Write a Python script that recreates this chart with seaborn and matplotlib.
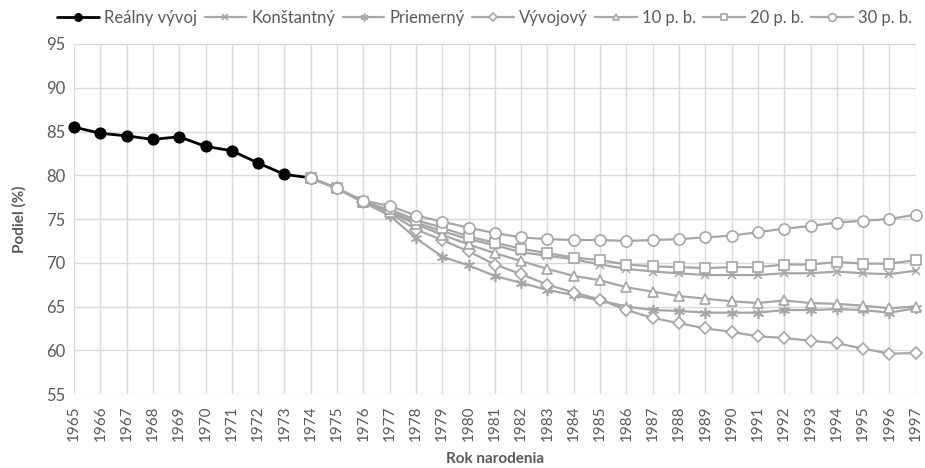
import matplotlib
matplotlib.use('agg')

import matplotlib.pyplot as plt
import seaborn as sns
import pandas as pd

years_real = list(range(1965, 1975))
real = [85.5, 84.8, 84.5, 84.1, 84.4, 83.3, 82.8, 81.4, 80.1, 79.7]

years_proj = list(range(1974, 1998))
konstantny = [79.7, 78.5, 77.0, 75.9, 74.6, 73.6, 72.7, 72.0, 71.2, 70.8, 70.4, 69.8,
              69.3, 69.0, 68.8, 68.6, 68.6, 68.6, 68.8, 68.8, 69.0, 68.8, 68.7, 69.1]
priemerny = [79.7, 78.5, 76.9, 75.4, 72.8, 70.7, 69.7, 68.5, 67.7, 66.9, 66.3, 65.7,
             65.0, 64.6, 64.5, 64.3, 64.3, 64.3, 64.6, 64.6, 64.7, 64.6, 64.3, 64.8]
vyvojovy = [79.7, 78.5, 77.0, 75.7, 73.8, 72.6, 71.3, 69.8, 68.7, 67.5, 66.6, 65.8,
            64.6, 63.7, 63.1, 62.5, 62.1, 61.6, 61.4, 61.1, 60.8, 60.2, 59.6, 59.7]
pb10 = [79.7, 78.5, 77.0, 75.8, 74.4, 73.2, 72.1, 71.1, 70.2, 69.3, 68.5, 68.0,
        67.2, 66.7, 66.2, 65.9, 65.6, 65.4, 65.7, 65.4, 65.3, 65.1, 64.8, 65.0]
pb20 = [79.7, 78.5, 76.9, 76.1, 74.9, 74.0, 73.0, 72.3, 71.6, 71.1, 70.6, 70.3,
        69.8, 69.6, 69.5, 69.4, 69.5, 69.5, 69.8, 69.8, 70.1, 69.9, 69.9, 70.3]
pb30 = [79.7, 78.5, 77.1, 76.5, 75.4, 74.7, 74.0, 73.4, 72.9, 72.7, 72.6, 72.6,
        72.5, 72.6, 72.7, 72.9, 73.1, 73.5, 73.9, 74.2, 74.6, 74.8, 75.0, 75.5]

proj = [("Konštantný", konstantny, "x"),
        ("Priemerný", priemerny, (6, 2, 0)),
        ("Vývojový", vyvojovy, "D"),
        ("10 p. b.", pb10, "^"),
        ("20 p. b.", pb20, "s"),
        ("30 p. b.", pb30, "o")]

sns.set_style("white")
plt.rcParams['font.family'] = ['Lato', 'DejaVu Sans']

fig, ax = plt.subplots(figsize=(9.25, 4.68), dpi=100)
fig.subplots_adjust(left=0.08, right=0.99, top=0.906, bottom=0.158)

gray = "#A6A6A6"
sns.lineplot(x=years_real, y=real, ax=ax, color="black", lw=2, marker="o",
             markersize=8, markerfacecolor="black", markeredgecolor="black",
             label="Reálny vývoj", clip_on=False, zorder=3)
for name, vals, m in proj:
    size = {"x": 6, "D": 6, "^": 7, "s": 7, "o": 8}.get(m, 8) if isinstance(m, str) else 8
    face = "white" if m in ("D", "^", "s", "o") else gray
    sns.lineplot(x=years_proj, y=vals, ax=ax, color=gray, lw=1.6, marker=m,
                 markersize=size, markerfacecolor=face, markeredgecolor=gray,
                 markeredgewidth=1.2, label=name, clip_on=False, zorder=4)

ax.set_xlim(1965, 1997)
ax.set_ylim(55, 95)
ax.set_xticks(years_real[:-1] + years_proj)
ax.set_xticklabels([str(y) for y in years_real[:-1] + years_proj], rotation=90)
ax.set_yticks(range(55, 96, 5))
ax.grid(True, color="#D9D9D9", lw=1)
for s in ax.spines.values():
    s.set_visible(False)
ax.tick_params(colors="#595959", labelsize=11, length=0)
ax.tick_params(axis="x", pad=8)
ax.tick_params(axis="y", labelsize=12, pad=6)
ax.set_xlabel("Rok narodenia", fontsize=11, fontweight="bold", color="#595959", labelpad=8)
ax.set_ylabel("Podiel (%)", fontsize=11, fontweight="bold", color="#595959", labelpad=14)

handles, labels = ax.get_legend_handles_labels()
ax.legend_.remove()
fig.legend(handles, labels, loc="center", bbox_to_anchor=(0.524, 0.962), ncol=7,
           frameon=False, fontsize=12, handlelength=2.5, columnspacing=0.45,
           handletextpad=0.3, markerscale=0.7, labelcolor="#595959")

plt.savefig("out.png", dpi=100)
